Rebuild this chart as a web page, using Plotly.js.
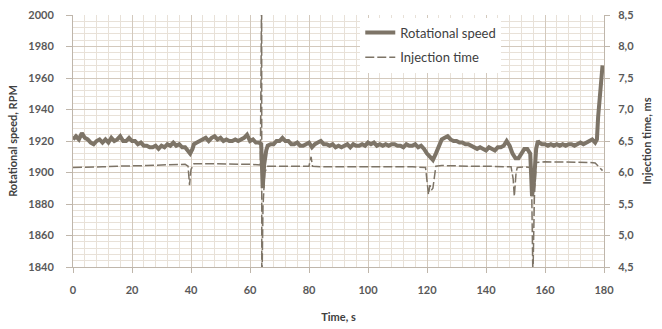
<!DOCTYPE html>
<html>
<head>
<meta charset="utf-8">
<script src="https://cdn.plot.ly/plotly-3.0.1.min.js"></script>
<style>html,body{margin:0;padding:0;background:#ffffff;}#chart{width:662px;height:329px;}</style>
</head>
<body>
<div id="chart"></div>
<script>
// Rotational speed, RPM (left axis)
const timeSpeed = [
  0,1,2,3,4,5,6,7,8,9,
  10,11,12,13,14,15,16,17,18,19,
  20,21,22,23,24,25,26,27,28,29,
  30,31,32,33,34,35,36,37,38,39,
  39.7,40.5,
  41,42,43,44,45,46,47,48,49,50,
  51,52,53,54,55,56,57,58,59,60,
  61,62,63,
  63.8,64.3,64.8,65.5,
  66,67,68,69,70,71,72,73,74,75,
  76,77,78,79,80,81,82,83,84,85,
  86,87,88,89,90,91,92,93,94,95,
  96,97,98,99,100,101,102,103,104,105,
  106,107,108,109,110,111,112,113,114,115,
  116,117,118,119,120,121,122,123,124,125,
  126,127,128,129,130,131,132,133,134,135,
  136,137,138,139,140,141,142,143,144,145,
  146,147,148,149,150,151,152,153,154,155,
  155.6,156.3,157,157.6,
  158,159,160,161,162,163,164,165,166,167,
  168,169,170,171,172,173,174,175,176,177,
  177.6,178,178.6,179,179.5
];
const speedRPM = [
  1921,1923,1921,1925,1922,1921,1919,1918,1920,1921,
  1919,1921,1919,1922,1920,1921,1923,1920,1920,1922,
  1920,1920,1918,1919,1917,1917,1916,1916,1917,1915,
  1917,1916,1918,1917,1919,1917,1918,1916,1916,1914,
  1912,1915,
  1918,1919,1920,1921,1922,1920,1922,1923,1921,1922,
  1920,1921,1920,1920,1921,1920,1921,1922,1924,1920,
  1921,1919,1919,
  1918,1890,1905,1914,
  1917,1918,1918,1920,1920,1922,1920,1920,1918,1918,
  1919,1917,1917,1918,1919,1916,1918,1919,1920,1918,
  1918,1917,1918,1916,1917,1916,1917,1918,1916,1918,
  1917,1917,1918,1917,1919,1918,1919,1917,1918,1917,
  1918,1917,1918,1918,1917,1917,1916,1918,1917,1917,
  1918,1916,1917,1915,1912,1910,1908,1912,1917,1921,
  1922,1923,1921,1920,1920,1919,1919,1918,1918,1917,
  1916,1915,1916,1915,1914,1916,1915,1914,1916,1916,
  1917,1920,1917,1912,1909,1909,1912,1915,1915,1912,
  1885,1895,1915,1920,
  1919,1918,1918,1917,1918,1917,1918,1917,1918,1917,
  1918,1918,1917,1918,1919,1918,1919,1920,1921,1919,
  1921,1935,1948,1958,1968
];

// Injection time, ms (right axis)
const timeInj = [0,5,10,15,20,25,30,35,38,39,39.5,40,41,45,50,55,60,63.5,63.95,64.0,64.4,65,66,70,75,80,80.7,81.2,85,90,95,100,105,110,115,119.5,120,120.5,121,121.5,122,122.5,123,125,130,135,140,145,148.5,149.2,149.6,150.2,150.6,153,155,155.5,155.9,156.4,157,160,165,170,175,177,178,179.5];
const injMs = [6.08,6.08,6.09,6.10,6.10,6.11,6.12,6.13,6.13,6.10,5.80,6.05,6.14,6.14,6.14,6.14,6.13,6.12,9.0,4.0,5.45,6.0,6.10,6.10,6.10,6.10,6.25,6.10,6.09,6.09,6.09,6.09,6.10,6.09,6.09,6.08,5.90,5.65,5.80,5.72,5.75,5.95,6.10,6.11,6.10,6.10,6.10,6.10,6.09,5.90,5.62,6.00,6.08,6.09,6.08,5.70,4.3,5.60,6.16,6.17,6.17,6.16,6.16,6.15,6.10,6.03];

const xTickVals = [0,20,40,60,80,100,120,140,160,180];

const lineColor = '#7d7467';
const tickFont = {family: 'Lato, "Open Sans", sans-serif', size: 11, color: '#595959', weight: 700};
const titleFont = {family: 'Lato, "Open Sans", sans-serif', size: 11, color: '#404040', weight: 700};

const traces = [
  {x: timeSpeed, y: speedRPM, type: 'scatter', mode: 'lines', name: 'Rotational speed',
   line: {color: lineColor, width: 4}, yaxis: 'y', legendgroup: 'a'},
  {x: timeInj, y: injMs, type: 'scatter', mode: 'lines', name: 'Injection time',
   line: {color: lineColor, width: 1.5, dash: '9px,3px'}, yaxis: 'y2', legendgroup: 'b'}
];

const layout = {
  width: 662, height: 329,
  margin: {l: 73, r: 58, t: 15, b: 62},
  paper_bgcolor: '#ffffff', plot_bgcolor: '#ffffff',
  separators: ', ',
  showlegend: true,
  legend: {x: 0.541, y: 0.99, xanchor: 'left', yanchor: 'top', bgcolor: '#ffffff',
    traceorder: 'grouped', tracegroupgap: 5,
    font: {family: 'Lato, "Open Sans", sans-serif', size: 13, color: '#404040'}},
  xaxis: {range: [0, 180], tickvals: xTickVals, showgrid: true, gridcolor: '#d3c9bd', gridwidth: 1,
    minor: {dtick: 4, showgrid: true, gridcolor: '#e8e1d8', gridwidth: 1},
    ticks: 'outside', ticklen: 5, tickcolor: '#bfb6ab', showline: true, linecolor: '#bfb6ab',
    zeroline: false, tickfont: tickFont, ticklabelstandoff: 8,
    title: {text: 'Time, s', font: titleFont, standoff: 18}},
  yaxis: {range: [1840, 2000], dtick: 20, showgrid: true, gridcolor: '#d3c9bd', gridwidth: 1,
    minor: {dtick: 4, showgrid: true, gridcolor: '#e8e1d8', gridwidth: 1},
    ticks: 'outside', ticklen: 6, tickcolor: '#bfb6ab', showline: true, linecolor: '#bfb6ab',
    zeroline: false, tickfont: tickFont, ticklabelstandoff: 10,
    title: {text: 'Rotational speed, RPM', font: titleFont, standoff: 8}},
  yaxis2: {range: [4.5, 8.5], dtick: 0.5, tickformat: '.1f', overlaying: 'y', side: 'right',
    showgrid: false, ticks: 'outside', ticklen: 5, tickcolor: '#bfb6ab', showline: true, linecolor: '#bfb6ab',
    zeroline: false, tickfont: tickFont, ticklabelstandoff: 6,
    title: {text: 'Injection time, ms', font: titleFont, standoff: 10}}
};

Plotly.newPlot('chart', traces, layout, {displayModeBar: false, staticPlot: true});
</script>
</body>
</html>
